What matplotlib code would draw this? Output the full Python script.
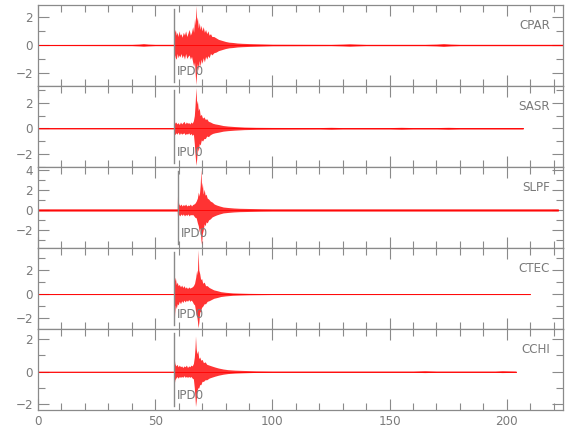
import matplotlib
matplotlib.use("Agg")
import matplotlib.pyplot as plt
from matplotlib.ticker import MultipleLocator

plt.rcParams['font.family'] = ['DejaVu Sans']
plt.rcParams['font.stretch'] = 'condensed'

GRAY = '#8a8a8a'
TXT = '#7a7a7a'

stations = ['CPAR', 'SASR', 'SLPF', 'CTEC', 'CCHI']
pick_labels = ['IPD0', 'IPU0', 'IPD0', 'IPD0', 'IPD0']
pick_times = [58.1, 58.1, 59.6, 58.1, 58.1]
ylims = [(-2.9, 2.83), (-3.03, 3.32), (-3.84, 4.34), (-2.9, 3.83), (-2.36, 2.62)]

# envelope knots (time s, upper, lower)
cpar_t = [0, 40, 43, 45, 47, 50,
          58.0, 58.1, 58.3, 58.6, 59.0, 59.4, 59.8, 60.2, 60.6, 61.0,
          61.5, 62.0, 62.5, 63.0, 63.5, 64.0, 64.5, 65.0, 65.5, 66.0,
          66.4, 66.8, 67.1, 67.4, 67.7, 68.0, 68.4, 68.8, 69.2, 69.6,
          70.0, 70.5, 71.0, 71.5, 72.0, 72.5, 73.0, 73.6, 74.2, 75.0,
          76, 77, 78, 79, 80, 81.5, 83, 85, 87, 90,
          95, 100,
          125, 130, 133, 136, 140,
          165, 170, 173, 176, 180,
          224]
cpar_up = [0.04, 0.05, 0.07, 0.1, 0.07, 0.05,
           0.05, 1.4, 0.9, 1.1, 0.7, 0.9, 0.6, 1.0, 0.7, 0.8,
           0.55, 0.9, 0.7, 1.0, 0.6, 0.85, 1.1, 0.7, 0.9, 1.3,
           0.9, 1.9, 1.4, 2.8, 1.7, 2.0, 1.2, 1.6, 1.1, 1.4,
           1.0, 1.3, 0.9, 1.1, 0.8, 1.0, 0.7, 0.8, 0.6, 0.6,
           0.5, 0.4, 0.35, 0.3, 0.25, 0.2, 0.18, 0.14, 0.12, 0.1,
           0.08, 0.06,
           0.05, 0.07, 0.09, 0.07, 0.05,
           0.05, 0.07, 0.1, 0.07, 0.05,
           0.05]
cpar_lo = [-0.04, -0.05, -0.07, -0.09, -0.07, -0.05,
           -0.05, -0.8, -0.7, -0.9, -1.0, -0.6, -0.9, -0.7, -0.85, -0.6,
           -0.9, -0.7, -1.0, -0.6, -0.95, -0.8, -0.7, -1.0, -0.8, -1.2,
           -1.5, -1.2, -2.1, -2.8, -1.9, -1.3, -1.8, -1.1, -1.5, -1.0,
           -1.3, -0.9, -1.2, -0.8, -1.0, -0.75, -0.9, -0.6, -0.7, -0.55,
           -0.5, -0.4, -0.35, -0.3, -0.25, -0.2, -0.18, -0.14, -0.12, -0.1,
           -0.08, -0.06,
           -0.05, -0.07, -0.09, -0.07, -0.05,
           -0.05, -0.07, -0.1, -0.07, -0.05,
           -0.05]

sasr_t = [0, 58.0, 58.1, 58.4, 58.8, 59.3, 59.8, 60.3, 60.8, 61.3,
          61.8, 62.3, 62.8, 63.3, 63.8, 64.3, 64.8, 65.3, 65.8, 66.3,
          66.7, 67.0, 67.4, 67.7, 68.0, 68.4, 68.8, 69.2, 69.7, 70.2,
          70.8, 71.4, 72.0, 72.7, 73.5, 74.5, 75.5, 77, 79, 81,
          84, 88, 93, 100, 120, 125, 130, 150, 155, 160,
          170, 175, 180, 207]
sasr_up = [0.05, 0.05, 0.7, 0.4, 0.5, 0.35, 0.45, 0.3, 0.5, 0.35,
           0.45, 0.55, 0.35, 0.5, 0.4, 0.45, 0.35, 0.5, 0.4, 0.6,
           1.0, 1.8, 3.2, 1.9, 2.2, 1.4, 1.6, 1.0, 1.1, 0.8,
           0.9, 0.7, 0.75, 0.55, 0.5, 0.4, 0.35, 0.3, 0.22, 0.18,
           0.14, 0.1, 0.08, 0.07, 0.06, 0.08, 0.06, 0.06, 0.08, 0.06,
           0.06, 0.08, 0.06, 0.06]
sasr_lo = [-0.05, -0.05, -0.4, -0.5, -0.35, -0.45, -0.3, -0.5, -0.35, -0.45,
           -0.4, -0.35, -0.5, -0.4, -0.45, -0.35, -0.5, -0.4, -0.55, -0.45,
           -1.2, -2.0, -2.9, -2.4, -1.5, -1.8, -1.2, -1.3, -0.9, -1.0,
           -0.8, -0.8, -0.6, -0.65, -0.5, -0.4, -0.35, -0.3, -0.22, -0.18,
           -0.14, -0.1, -0.08, -0.07, -0.06, -0.08, -0.06, -0.06, -0.08, -0.06,
           -0.06, -0.08, -0.06, -0.06]

slpf_t = [0, 59.4, 59.6, 59.8, 60.1, 60.5, 61.0, 61.5, 62.0, 62.5,
          63.0, 63.5, 64.0, 64.5, 65.0, 65.5, 66.0, 66.5, 67.0, 67.5,
          68.0, 68.4, 68.8, 69.2, 69.5, 69.8, 70.1, 70.5, 70.9, 71.3,
          71.7, 72.2, 72.8, 73.5, 74.3, 75.2, 76.2, 77.5, 79, 81,
          83.5, 86, 90, 95, 100, 222]
slpf_up = [0.12, 0.12, 2.3, 0.9, 0.6, 0.45, 0.6, 0.4, 0.55, 0.45,
           0.6, 0.4, 0.5, 0.45, 0.6, 0.4, 0.55, 0.6, 0.7, 0.9,
           1.2, 1.8, 1.4, 2.5, 4.1, 2.2, 2.8, 1.6, 2.1, 1.5,
           1.6, 1.2, 1.1, 0.9, 0.8, 0.6, 0.5, 0.4, 0.3, 0.25,
           0.2, 0.17, 0.15, 0.13, 0.12, 0.12]
slpf_lo = [-0.12, -0.12, -1.0, -0.7, -0.45, -0.6, -0.4, -0.55, -0.4, -0.6,
           -0.45, -0.55, -0.4, -0.6, -0.45, -0.5, -0.45, -0.6, -0.75, -0.8,
           -1.3, -1.6, -2.2, -1.8, -3.0, -3.5, -2.4, -2.0, -1.4, -1.6,
           -1.2, -1.3, -1.0, -0.9, -0.7, -0.6, -0.5, -0.4, -0.3, -0.25,
           -0.2, -0.17, -0.15, -0.13, -0.12, -0.12]

ctec_t = [0, 58.0, 58.1, 58.3, 58.6, 59.0, 59.4, 59.8, 60.3, 60.8,
          61.3, 61.8, 62.3, 62.8, 63.3, 63.8, 64.3, 64.8, 65.3, 65.8,
          66.3, 66.8, 67.3, 67.7, 68.0, 68.3, 68.6, 69.0, 69.4, 69.8,
          70.3, 70.9, 71.5, 72.2, 73.0, 74.0, 75.0, 76.5, 78, 80,
          83, 86, 90, 95, 100, 210]
ctec_up = [0.04, 0.04, 2.2, 1.1, 1.4, 0.8, 1.0, 0.7, 0.8, 0.6,
           0.75, 0.55, 0.7, 0.5, 0.6, 0.45, 0.6, 0.5, 0.55, 0.6,
           0.7, 0.9, 1.4, 2.0, 1.6, 3.7, 2.0, 1.7, 1.2, 1.3,
           0.9, 1.0, 0.7, 0.7, 0.55, 0.45, 0.35, 0.28, 0.2, 0.15,
           0.1, 0.08, 0.06, 0.05, 0.04, 0.04]
ctec_lo = [-0.04, -0.04, -2.6, -1.6, -0.9, -1.2, -0.8, -0.9, -0.6, -0.8,
           -0.55, -0.7, -0.5, -0.65, -0.5, -0.6, -0.45, -0.6, -0.5, -0.6,
           -0.8, -0.9, -1.5, -1.8, -2.2, -2.8, -2.4, -1.5, -1.4, -1.1,
           -1.0, -0.8, -0.8, -0.6, -0.55, -0.45, -0.35, -0.28, -0.2, -0.15,
           -0.1, -0.08, -0.06, -0.05, -0.04, -0.04]

cchi_t = [0, 58.0, 58.1, 58.4, 58.8, 59.3, 59.8, 60.3, 60.8, 61.3,
          61.8, 62.3, 62.8, 63.3, 63.8, 64.3, 64.8, 65.3, 65.8, 66.3,
          66.7, 67.0, 67.2, 67.5, 67.8, 68.2, 68.6, 69.0, 69.5, 70.0,
          70.6, 71.3, 72.0, 73.0, 74.0, 75.5, 77, 79, 81, 84,
          88, 93, 100, 160, 165, 170, 195, 198, 204]
cchi_up = [0.03, 0.03, 0.85, 0.5, 0.35, 0.45, 0.3, 0.4, 0.3, 0.35,
           0.25, 0.35, 0.3, 0.4, 0.25, 0.35, 0.3, 0.4, 0.35, 0.5,
           0.9, 1.5, 2.2, 1.4, 1.1, 1.3, 0.8, 0.9, 0.7, 0.75,
           0.55, 0.6, 0.45, 0.4, 0.35, 0.28, 0.22, 0.16, 0.12, 0.09,
           0.07, 0.05, 0.04, 0.04, 0.06, 0.04, 0.04, 0.06, 0.04]
cchi_lo = [-0.03, -0.03, -0.8, -0.5, -0.4, -0.3, -0.4, -0.3, -0.35, -0.3,
           -0.35, -0.25, -0.35, -0.3, -0.35, -0.3, -0.35, -0.3, -0.4, -0.45,
           -1.0, -1.6, -2.15, -1.8, -1.2, -1.0, -1.0, -0.8, -0.8, -0.6,
           -0.6, -0.5, -0.5, -0.4, -0.35, -0.28, -0.22, -0.16, -0.12, -0.09,
           -0.07, -0.05, -0.04, -0.04, -0.06, -0.04, -0.04, -0.06, -0.04]

traces = [(cpar_t, cpar_up, cpar_lo), (sasr_t, sasr_up, sasr_lo),
          (slpf_t, slpf_up, slpf_lo), (ctec_t, ctec_up, ctec_lo),
          (cchi_t, cchi_up, cchi_lo)]

xticks_major = [0, 50, 100, 150, 200]
xlim = (0, 224)

fig = plt.figure(figsize=(5.8, 4.4), dpi=100)
W, H = 580.0, 440.0
left, right = 38 / W, 563 / W
tops = [5, 86, 167, 248, 329]
ph = 81

for i, (name, (t, up, lo)) in enumerate(zip(stations, traces)):
    ax = fig.add_axes([left, 1 - (tops[i] + ph) / H, right - left, ph / H])
    ax.fill_between(t, lo, up, color='#ff0000', alpha=0.8, lw=0, zorder=2)
    ax.plot([t[0], t[-1]], [0, 0], color='#ff0000', lw=0.6, zorder=2)
    ax.axvline(pick_times[i], ymin=0.05, ymax=0.95, color=GRAY, lw=1.0, zorder=3)
    ax.text(pick_times[i] + 1.3, 0.18, pick_labels[i], transform=ax.get_xaxis_transform(),
            ha='left', va='center', fontsize=9.5, color=TXT, zorder=4)
    ax.text(0.975, 0.75, name, transform=ax.transAxes, ha='right', va='center',
            fontsize=9.5, color=TXT)
    ax.set_xlim(*xlim)
    ax.set_ylim(*ylims[i])
    ax.set_xticks(xticks_major)
    ax.xaxis.set_minor_locator(MultipleLocator(10))
    ax.yaxis.set_major_locator(MultipleLocator(2))
    ax.yaxis.set_minor_locator(MultipleLocator(1))
    ax.tick_params(which='both', direction='in', top=True, right=True, colors=GRAY,
                   labelcolor=TXT, labelsize=9.5, width=0.8)
    ax.tick_params(which='major', length=8)
    ax.tick_params(which='minor', length=5)
    for s in ax.spines.values():
        s.set_color(GRAY)
        s.set_linewidth(0.9)
    if i < 4:
        ax.tick_params(labelbottom=False)

fig.savefig('out.png', dpi=100)
